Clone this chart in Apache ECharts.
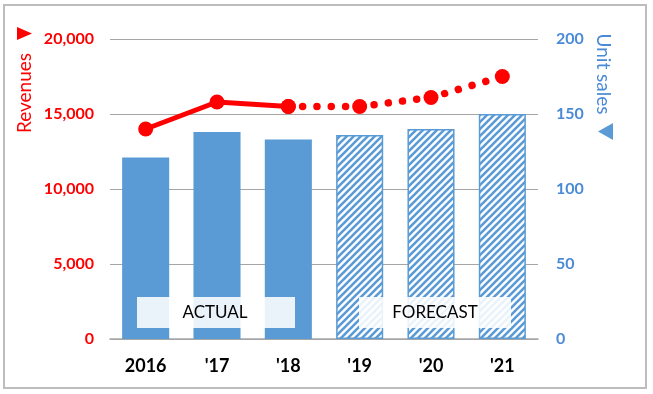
<!DOCTYPE html>
<html>
<head>
<meta charset="utf-8">
<script src="https://cdn.jsdelivr.net/npm/echarts@6/dist/echarts.min.js"></script>
<style>
html,body{margin:0;padding:0;background:#fff;}
#chart{width:653px;height:394px;}
</style>
</head>
<body>
<div id="chart"></div>
<script>
// ---- data ----
const categories = ['2016', "'17", "'18", "'19", "'20", "'21"];
const unitSales = [121, 138, 133, 136, 140, 150];            // right axis (bars)
const revenuesActual = [14000, 15800, 15500, null, null, null]; // left axis (solid line)
const revenuesForecast = [null, null, 15500, 15500, 16100, 17500]; // left axis (dotted)
const actualCount = 3; // first 3 categories are actual, rest forecast
const leftTicks = { min: 0, max: 20000, interval: 5000 };
const rightTicks = { min: 0, max: 200, interval: 50 };

const RED = '#ff0000';
const BLUE = '#5b9bd5';
const BLUE_TXT = '#4a8ad6';
const FONT = 'Lato, "Open Sans", sans-serif';

// hatch pattern
function makeHatch() {
  const s = 7;
  const c = document.createElement('canvas');
  c.width = s; c.height = s;
  const g = c.getContext('2d');
  g.fillStyle = '#fff';
  g.fillRect(0, 0, s, s);
  g.strokeStyle = BLUE;
  g.lineWidth = 2.6;
  g.beginPath();
  g.moveTo(-1, s + 1); g.lineTo(s + 1, -1);
  g.moveTo(-2, 2); g.lineTo(2, -2);
  g.moveTo(s - 2, s + 2); g.lineTo(s + 2, s - 2);
  g.stroke();
  return c;
}
const hatch = makeHatch();

const barData = unitSales.map((v, i) => i < actualCount
  ? { value: v, itemStyle: { color: BLUE } }
  : { value: v, itemStyle: { color: { image: hatch, repeat: 'repeat' }, borderColor: BLUE, borderWidth: 1.5 } });

const chart = echarts.init(document.getElementById('chart'), null, { renderer: 'canvas' });
chart.setOption({
  animation: false,
  textStyle: { fontFamily: FONT },
  grid: { left: 110, right: 115, top: 39, bottom: 55 },
  xAxis: {
    type: 'category',
    data: categories,
    axisTick: { show: false },
    axisLine: { lineStyle: { color: '#a6a6a6', width: 1.5 } },
    axisLabel: { color: '#000', fontWeight: 'bold', fontSize: 18, margin: 18, fontFamily: FONT }
  },
  yAxis: [
    {
      type: 'value', min: leftTicks.min, max: leftTicks.max, interval: leftTicks.interval,
      axisLine: { show: false }, axisTick: { show: false },
      splitLine: { lineStyle: { color: '#a6a6a6', width: 1 } },
      axisLabel: { color: RED, fontWeight: 'bold', fontSize: 16, margin: 16, fontFamily: FONT,
        formatter: v => v.toLocaleString('en-US') }
    },
    {
      type: 'value', min: rightTicks.min, max: rightTicks.max, interval: rightTicks.interval,
      axisLine: { show: false }, axisTick: { show: false },
      splitLine: { show: false },
      axisLabel: { color: BLUE_TXT, fontWeight: 'bold', fontSize: 16, margin: 18, fontFamily: FONT }
    }
  ],
  series: [
    {
      type: 'bar', yAxisIndex: 1, data: barData, barWidth: '66%', z: 2
    },
    {
      type: 'line', yAxisIndex: 0, data: revenuesActual, z: 5,
      symbol: 'circle', symbolSize: 15, itemStyle: { color: RED },
      lineStyle: { color: RED, width: 5 }
    },
    {
      type: 'line', yAxisIndex: 0, data: revenuesForecast, z: 5,
      symbol: 'circle', symbolSize: 15, itemStyle: { color: RED },
      lineStyle: { color: RED, width: 7.5, type: [0.01, 14.3], cap: 'round' }
    }
  ],
  graphic: [
    { type: 'rect', z: 100, shape: { x: 4, y: 5, width: 642, height: 383 },
      style: { fill: 'none', stroke: '#bdbdbd', lineWidth: 2 } },
    { type: 'rect', z: 100, shape: { x: 137, y: 297, width: 158, height: 31 },
      style: { fill: 'rgba(255,255,255,0.87)' } },
    { type: 'text', z: 101, x: 215, y: 313,
      style: { text: 'ACTUAL', fill: '#000', font: '17px ' + FONT, textAlign: 'center', textVerticalAlign: 'middle' } },
    { type: 'rect', z: 100, shape: { x: 359, y: 297, width: 152, height: 31 },
      style: { fill: 'rgba(255,255,255,0.87)' } },
    { type: 'text', z: 101, x: 435, y: 313,
      style: { text: 'FORECAST', fill: '#000', font: '17px ' + FONT, textAlign: 'center', textVerticalAlign: 'middle' } },
    { type: 'text', z: 101, x: 25, y: 93, rotation: Math.PI / 2,
      style: { text: 'Revenues', fill: RED, font: '19px ' + FONT, textAlign: 'center', textVerticalAlign: 'middle' } },
    { type: 'polygon', z: 101, shape: { points: [[17, 27], [32, 33.5], [17, 40]] }, style: { fill: RED } },
    { type: 'text', z: 101, x: 603, y: 74, rotation: -Math.PI / 2,
      style: { text: 'Unit sales', fill: BLUE_TXT, font: '19px ' + FONT, textAlign: 'center', textVerticalAlign: 'middle' } },
    { type: 'polygon', z: 101, shape: { points: [[613, 123], [598, 131.5], [613, 140]] }, style: { fill: BLUE } }
  ]
});
</script>
</body>
</html>
